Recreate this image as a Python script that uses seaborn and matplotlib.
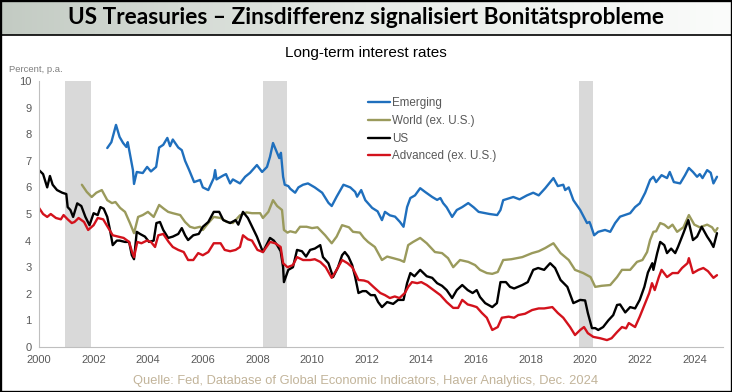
import matplotlib
matplotlib.use("Agg")
import matplotlib.pyplot as plt
from matplotlib.colors import LinearSegmentedColormap
from matplotlib.patches import Rectangle
from matplotlib.lines import Line2D
import seaborn as sns
import numpy as np
import pandas as pd

# Long-term interest rates, (decimal year, percent p.a.)
emerging = [(2002.5,7.48),(2002.65,7.7),(2002.82,8.35),(2002.95,7.9),(2003.08,7.67),(2003.2,7.52),(2003.25,7.7),
            (2003.44,6.65),(2003.48,6.13),(2003.58,6.58),(2003.8,6.54),(2003.96,6.77),(2004.1,6.6),(2004.29,6.77),
            (2004.4,7.5),(2004.55,7.6),(2004.7,7.86),(2004.8,7.55),(2004.9,7.8),(2005.1,7.5),(2005.23,7.4),
            (2005.35,7.0),(2005.5,6.65),(2005.68,6.2),(2005.9,6.28),(2006.0,6.0),(2006.2,5.9),(2006.4,6.35),
            (2006.45,6.65),(2006.5,6.3),(2006.75,6.45),(2006.85,6.5),(2007.0,6.15),(2007.1,6.3),(2007.36,6.15),
            (2007.55,6.4),(2007.73,6.55),(2007.98,6.84),(2008.17,6.58),(2008.35,6.77),(2008.46,7.15),(2008.57,7.67),
            (2008.72,7.3),(2008.8,7.1),(2008.86,7.3),(2008.94,6.4),(2009.0,6.1),(2009.13,6.05),(2009.2,5.95),
            (2009.38,5.8),(2009.5,6.0),(2009.67,6.1),(2009.85,6.15),(2010.1,6.0),(2010.37,5.8),(2010.6,5.42),
            (2010.72,5.3),(2010.9,5.65),(2011.15,6.1),(2011.4,6.0),(2011.58,5.83),(2011.65,5.65),(2011.8,5.9),
            (2011.95,5.52),(2012.2,5.23),(2012.4,5.1),(2012.56,4.77),(2012.67,5.08),(2012.85,4.95),(2013.04,4.9),
            (2013.22,4.7),(2013.35,4.52),(2013.48,5.26),(2013.6,5.6),(2013.77,5.7),(2013.96,5.97),(2014.14,5.83),
            (2014.4,5.64),(2014.58,5.53),(2014.7,5.6),(2014.8,5.41),(2014.93,5.25),(2015.13,4.89),(2015.3,5.15),
            (2015.5,5.26),(2015.72,5.41),(2015.92,5.25),(2016.1,5.08),(2016.34,5.03),(2016.5,5.0),(2016.78,4.96),
            (2016.9,5.15),(2017.0,5.52),(2017.37,5.64),(2017.6,5.55),(2017.87,5.7),(2018.1,5.8),(2018.3,5.7),
            (2018.54,5.97),(2018.72,6.2),(2018.84,6.35),(2019.0,6.05),(2019.2,6.1),(2019.27,5.9),(2019.4,6.0),
            (2019.57,5.52),(2019.82,5.15),(2020.07,4.66),(2020.16,4.7),(2020.2,4.6),(2020.33,4.2),(2020.48,4.33),
            (2020.73,4.4),(2020.92,4.33),(2021.1,4.66),(2021.28,4.9),(2021.65,5.03),(2021.83,5.26),(2022.0,5.4),
            (2022.2,5.8),(2022.38,6.28),(2022.5,6.4),(2022.6,6.2),(2022.8,6.46),(2023.0,6.35),(2023.1,6.58),
            (2023.25,6.2),(2023.48,6.15),(2023.66,6.46),(2023.8,6.73),(2023.95,6.58),(2024.1,6.4),(2024.2,6.5),
            (2024.3,6.35),(2024.47,6.65),(2024.6,6.55),(2024.7,6.15),(2024.83,6.4)]

world = [(2001.57,6.1),(2001.75,5.83),(2001.93,5.64),(2002.1,5.8),(2002.3,5.9),(2002.5,5.52),(2002.67,5.41),
         (2002.8,5.45),(2002.97,5.23),(2003.15,5.08),(2003.33,4.66),(2003.48,4.28),(2003.63,4.89),(2003.8,4.96),
         (2003.99,5.08),(2004.2,4.89),(2004.4,5.34),(2004.57,5.2),(2004.73,5.08),(2004.9,5.03),(2005.17,4.96),
         (2005.35,4.7),(2005.53,4.52),(2005.7,4.47),(2005.9,4.52),(2006.0,4.4),(2006.2,4.66),(2006.4,4.89),
         (2006.65,4.85),(2006.88,4.7),(2007.1,4.66),(2007.36,4.95),(2007.6,5.06),(2007.8,5.03),(2008.1,5.03),
         (2008.2,4.85),(2008.4,5.08),(2008.57,5.52),(2008.72,5.3),(2008.9,5.15),(2008.97,4.4),(2009.1,4.3),
         (2009.2,4.35),(2009.4,4.3),(2009.56,4.52),(2009.8,4.52),(2010.0,4.47),(2010.2,4.5),(2010.48,4.2),
         (2010.72,3.9),(2010.9,4.15),(2011.1,4.58),(2011.35,4.5),(2011.5,4.33),(2011.75,4.3),(2011.9,4.1),
         (2012.05,3.95),(2012.3,3.76),(2012.56,3.27),(2012.75,3.4),(2012.97,3.34),(2013.22,3.27),(2013.37,3.2),
         (2013.52,3.83),(2013.7,3.95),(2013.96,4.1),(2014.2,3.9),(2014.5,3.57),(2014.76,3.53),(2014.98,3.34),
         (2015.17,3.0),(2015.42,3.27),(2015.72,3.2),(2015.97,3.08),(2016.15,2.9),(2016.4,2.78),(2016.6,2.75),
         (2016.8,2.82),(2017.0,3.27),(2017.3,3.3),(2017.7,3.38),(2018.06,3.53),(2018.3,3.6),(2018.54,3.72),
         (2018.72,3.83),(2018.84,3.9),(2019.1,3.53),(2019.4,3.27),(2019.63,2.9),(2019.93,2.78),(2020.2,2.63),
         (2020.37,2.26),(2020.6,2.3),(2020.92,2.33),(2021.17,2.63),(2021.35,2.9),(2021.65,2.9),(2021.9,3.2),
         (2022.1,3.27),(2022.27,3.57),(2022.38,4.02),(2022.5,4.33),(2022.6,4.35),(2022.75,4.66),(2022.9,4.6),
         (2023.05,4.47),(2023.2,4.6),(2023.37,4.33),(2023.6,4.5),(2023.8,4.96),(2024.0,4.6),(2024.2,4.5),
         (2024.47,4.6),(2024.65,4.5),(2024.76,4.33),(2024.85,4.47)]

us = [(2000.0,6.65),(2000.15,6.5),(2000.3,6.0),(2000.4,6.43),(2000.5,6.1),(2000.66,5.9),(2000.85,5.8),(2001.0,5.75),
      (2001.05,5.26),(2001.15,5.15),(2001.25,4.89),(2001.4,5.4),(2001.55,5.3),(2001.7,4.89),(2001.85,4.58),
      (2002.0,5.03),(2002.15,4.96),(2002.25,5.26),(2002.37,5.2),(2002.5,4.89),(2002.6,4.4),(2002.7,3.83),
      (2002.85,4.0),(2002.95,4.0),(2003.15,3.95),(2003.3,3.95),(2003.4,3.45),(2003.48,3.3),(2003.58,4.33),
      (2003.7,4.25),(2003.88,4.15),(2004.03,3.95),(2004.2,4.0),(2004.3,4.66),(2004.43,4.7),(2004.55,4.4),
      (2004.73,4.1),(2004.9,4.15),(2005.1,4.25),(2005.23,4.47),(2005.35,4.2),(2005.46,4.02),(2005.65,4.2),
      (2005.85,4.25),(2006.0,4.52),(2006.2,4.7),(2006.4,5.08),(2006.6,5.08),(2006.75,4.77),(2007.0,4.66),
      (2007.2,4.77),(2007.3,4.6),(2007.47,5.08),(2007.65,4.85),(2007.98,4.15),(2008.2,3.57),(2008.46,4.1),
      (2008.6,4.0),(2008.72,3.83),(2008.85,3.6),(2008.94,3.0),(2008.97,2.44),(2009.13,2.9),(2009.3,3.0),
      (2009.45,3.65),(2009.63,3.6),(2009.78,3.4),(2009.93,3.65),(2010.1,3.7),(2010.3,3.83),(2010.4,3.38),
      (2010.6,3.15),(2010.77,2.63),(2010.95,3.0),(2011.1,3.45),(2011.2,3.57),(2011.33,3.4),(2011.47,3.08),
      (2011.58,2.63),(2011.7,2.03),(2011.85,2.1),(2011.98,2.1),(2012.15,1.95),(2012.3,1.95),(2012.42,1.69),
      (2012.56,1.5),(2012.75,1.69),(2012.97,1.62),(2013.15,1.77),(2013.35,1.77),(2013.48,2.4),(2013.6,2.78),
      (2013.75,2.66),(2013.96,2.9),(2014.2,2.66),(2014.4,2.6),(2014.58,2.4),(2014.76,2.3),(2014.93,2.14),
      (2015.13,1.84),(2015.3,2.14),(2015.5,2.33),(2015.7,2.14),(2015.88,2.03),(2016.03,2.14),(2016.15,1.88),
      (2016.34,1.65),(2016.6,1.5),(2016.77,1.65),(2016.9,2.44),(2017.1,2.44),(2017.25,2.26),(2017.4,2.2),
      (2017.7,2.33),(2017.9,2.44),(2018.1,2.9),(2018.28,2.97),(2018.5,2.9),(2018.72,3.15),(2018.9,2.97),
      (2019.1,2.52),(2019.35,2.26),(2019.57,1.65),(2019.82,1.77),(2020.0,1.75),(2020.1,1.28),(2020.25,0.71),
      (2020.37,0.71),(2020.48,0.64),(2020.66,0.75),(2020.85,1.0),(2021.03,1.2),(2021.17,1.58),(2021.28,1.6),
      (2021.47,1.3),(2021.65,1.5),(2021.83,1.45),(2022.0,1.77),(2022.17,2.26),(2022.3,2.8),(2022.46,3.15),
      (2022.5,2.9),(2022.64,3.53),(2022.75,3.95),(2022.9,3.83),(2023.0,3.53),(2023.15,3.7),(2023.3,3.53),
      (2023.4,3.76),(2023.6,4.28),(2023.78,4.77),(2023.95,4.02),(2024.1,4.15),(2024.27,4.52),(2024.47,4.15),
      (2024.6,3.95),(2024.7,3.76),(2024.83,4.28)]

advanced = [(2000.0,5.23),(2000.15,5.0),(2000.3,4.89),(2000.43,5.0),(2000.62,4.85),(2000.8,4.8),(2000.9,4.96),
            (2001.05,4.8),(2001.2,4.66),(2001.3,4.7),(2001.45,4.85),(2001.65,4.7),(2001.8,4.4),(2002.0,4.58),
            (2002.15,4.85),(2002.35,4.8),(2002.54,4.47),(2002.7,4.2),(2002.9,4.15),(2003.1,4.1),(2003.3,3.95),
            (2003.4,3.6),(2003.48,3.38),(2003.6,3.95),(2003.75,3.9),(2003.95,4.0),(2004.1,3.95),(2004.25,3.76),
            (2004.37,4.2),(2004.55,4.25),(2004.75,3.95),(2004.9,3.76),(2005.1,3.65),(2005.3,3.57),(2005.46,3.27),
            (2005.65,3.27),(2005.83,3.53),(2006.0,3.45),(2006.2,3.57),(2006.4,3.9),(2006.65,3.9),(2006.8,3.65),
            (2007.0,3.6),(2007.2,3.65),(2007.36,3.76),(2007.47,4.2),(2007.65,4.05),(2007.8,4.0),(2008.0,3.65),
            (2008.2,3.57),(2008.46,3.95),(2008.65,3.9),(2008.85,3.76),(2008.94,3.15),(2009.1,3.0),(2009.3,3.08),
            (2009.45,3.38),(2009.67,3.27),(2009.93,3.27),(2010.1,3.3),(2010.3,3.2),(2010.5,3.0),(2010.72,2.6),
            (2010.9,2.9),(2011.1,3.27),(2011.3,3.15),(2011.47,3.0),(2011.58,2.78),(2011.7,2.52),(2011.9,2.5),
            (2012.05,2.45),(2012.25,2.26),(2012.5,2.03),(2012.67,1.95),(2012.85,1.84),(2013.03,1.9),(2013.2,1.84),
            (2013.4,2.03),(2013.52,2.26),(2013.66,2.44),(2013.85,2.4),(2014.0,2.44),(2014.2,2.33),(2014.45,2.14),
            (2014.7,1.95),(2014.93,1.69),(2015.17,1.47),(2015.35,1.47),(2015.5,1.77),(2015.7,1.6),(2015.88,1.55),
            (2016.03,1.5),(2016.22,1.28),(2016.4,1.1),(2016.6,0.64),(2016.8,0.75),(2016.95,1.1),(2017.2,1.14),
            (2017.4,1.1),(2017.55,1.2),(2017.8,1.25),(2018.06,1.39),(2018.3,1.45),(2018.5,1.45),(2018.8,1.5),
            (2019.0,1.28),(2019.2,1.1),(2019.45,0.75),(2019.63,0.45),(2019.82,0.64),(2019.96,0.75),(2020.1,0.52),
            (2020.3,0.38),(2020.55,0.33),(2020.8,0.26),(2020.97,0.33),(2021.17,0.56),(2021.35,0.75),(2021.5,0.7),
            (2021.6,0.9),(2021.83,0.75),(2022.0,1.14),(2022.2,1.65),(2022.35,2.03),(2022.45,2.4),(2022.55,2.14),
            (2022.7,2.63),(2022.8,2.9),(2023.0,2.63),(2023.2,2.78),(2023.4,2.78),(2023.55,2.97),(2023.75,3.15),
            (2023.8,3.34),(2023.95,2.78),(2024.15,2.9),(2024.33,2.97),(2024.5,2.85),(2024.7,2.6),(2024.83,2.7)]

# US recessions (shaded)
recessions = [(2000.95, 2001.92), (2008.22, 2009.08), (2019.78, 2020.3)]

series_names = ["Emerging", "World (ex. U.S.)", "US", "Advanced (ex. U.S.)"]
series_colors = ["#1f6fbd", "#9a9a5c", "#000000", "#d3121c"]
xticks = list(range(2000, 2025, 2))
yticks = list(range(0, 11))

title = "US Treasuries \u2013 Zinsdifferenz signalisiert Bonitätsprobleme"
subtitle = "Long-term interest rates"
source = "Quelle: Fed, Database of Global Economic Indicators, Haver Analytics, Dec. 2024"

# long-form frame for seaborn
frames = []
for name, data in zip(series_names, [emerging, world, us, advanced]):
    d = pd.DataFrame(data, columns=["year", "rate"])
    d["series"] = name
    frames.append(d)
df = pd.concat(frames, ignore_index=True)

sns.set_theme(style="white")
plt.rcParams["font.family"] = ["Liberation Sans", "DejaVu Sans"]

W, H = 732, 392
fig = plt.figure(figsize=(W / 100, H / 100), dpi=100)
fig.patch.set_facecolor("white")

# header band with gradient
hdr_h = 35
ax_h = fig.add_axes([0, 1 - hdr_h / H, 1, hdr_h / H])
cmap = LinearSegmentedColormap.from_list("hdr", ["#c3cbc3", "#e6eae6", "#fbfcfb"])
ax_h.imshow(np.linspace(0, 1, 256).reshape(1, -1), aspect="auto", cmap=cmap, extent=[0, 1, 0, 1])
ax_h.set_axis_off()
ax_h.text(0.5, 0.5, title, ha="center", va="center", fontsize=16.3, fontweight="bold",
          family=["Lato", "DejaVu Sans"], color="black", transform=ax_h.transAxes)
fig.add_artist(Line2D([0, 1], [1 - hdr_h / H, 1 - hdr_h / H], transform=fig.transFigure,
                      color="black", lw=1.2))

# main chart axes
x0, x1, ytop, ybot = 39, 723, 81, 347
ax = fig.add_axes([x0 / W, (H - ybot) / H, (x1 - x0) / W, (ybot - ytop) / H])

for a, b in recessions:
    ax.axvspan(a, b, color="#d9d9d9", lw=0, zorder=0)

sns.lineplot(data=df, x="year", y="rate", hue="series", hue_order=series_names,
             palette=series_colors, estimator=None, sort=False, linewidth=1.7, ax=ax)

ax.set_xlim(2000, 2025.05)
ax.set_ylim(0, 10)
ax.set_xticks(xticks)
ax.set_yticks(yticks)
ax.set_xlabel("")
ax.set_ylabel("")
for s in ["top", "right"]:
    ax.spines[s].set_visible(False)
for s in ["left", "bottom"]:
    ax.spines[s].set_color("#bfbfbf")
    ax.spines[s].set_linewidth(0.8)
ax.tick_params(axis="both", which="both", direction="out", length=3.5, width=0.8,
               color="#bfbfbf", labelcolor="#595959", labelsize=8, pad=2)
ax.patch.set_alpha(0)

handles, labels = ax.get_legend_handles_labels()
leg = ax.legend(handles, labels, loc="upper left",
                bbox_to_anchor=((368 - x0) / (x1 - x0), (ybot - 97) / (ybot - ytop)),
                frameon=False, fontsize=8.4, handlelength=1.9, handletextpad=0.15, labelspacing=0.5,
                borderpad=0, borderaxespad=0)
for t in leg.get_texts():
    t.set_color("#595959")
for line in leg.get_lines():
    line.set_linewidth(1.7)

fig.text(9 / W, 1 - 70 / H, "Percent, p.a.", fontsize=6.8, color="#7f7f7f", ha="left", va="center")
fig.text(0.5, 1 - 53 / H, subtitle, fontsize=11, color="black", ha="center", va="center")
fig.text(0.5, 1 - 381 / H, source, fontsize=9.3, color="#c2b49a", ha="center", va="center")

# outer frame
fig.add_artist(Rectangle((0, 0), 1, 1, transform=fig.transFigure, fill=False, edgecolor="black", lw=2.4))

fig.savefig("out.png", dpi=100)
